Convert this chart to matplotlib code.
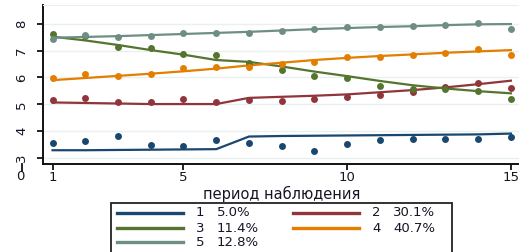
import matplotlib.pyplot as plt
from matplotlib.lines import Line2D
from matplotlib.patches import Rectangle

# наблюдаемые средние и подогнанные траектории по группам
period = list(range(1, 16))
groups = ["1", "2", "3", "4", "5"]
shares = ["5.0%", "30.1%", "11.4%", "40.7%", "12.8%"]
colors = ["#1a476f", "#90353b", "#55752f", "#e37e00", "#6e8e84"]

obs1 = [3.55, 3.63, 3.83, 3.48, 3.45, 3.66, 3.55, 3.46, 3.26, 3.52, 3.67, 3.71, 3.71, 3.71, 3.79]
fit1 = [3.29, 3.29, 3.30, 3.31, 3.32, 3.33, 3.80, 3.82, 3.83, 3.84, 3.85, 3.86, 3.87, 3.88, 3.91]
obs2 = [5.15, 5.25, 5.08, 5.08, 5.18, 5.08, 5.16, 5.13, 5.18, 5.28, 5.36, 5.46, 5.63, 5.79, 5.59]
fit2 = [5.07, 5.05, 5.03, 5.01, 5.01, 5.01, 5.24, 5.28, 5.32, 5.37, 5.45, 5.53, 5.63, 5.75, 5.88]
obs3 = [7.63, 7.55, 7.13, 7.08, 6.89, 6.82, 6.55, 6.29, 6.04, 5.98, 5.68, 5.56, 5.56, 5.48, 5.20]
fit3 = [7.52, 7.38, 7.21, 7.02, 6.85, 6.65, 6.58, 6.41, 6.22, 6.05, 5.87, 5.71, 5.59, 5.49, 5.41]
obs4 = [5.97, 6.12, 6.04, 6.14, 6.34, 6.38, 6.38, 6.52, 6.59, 6.76, 6.76, 6.83, 6.93, 7.05, 6.82]
fit4 = [5.90, 5.98, 6.06, 6.14, 6.23, 6.33, 6.45, 6.55, 6.65, 6.73, 6.80, 6.86, 6.92, 6.97, 7.02]
obs5 = [7.42, 7.57, 7.52, 7.54, 7.64, 7.66, 7.64, 7.74, 7.80, 7.88, 7.89, 7.91, 7.95, 8.03, 7.80]
fit5 = [7.48, 7.51, 7.54, 7.58, 7.62, 7.66, 7.70, 7.75, 7.80, 7.84, 7.88, 7.91, 7.95, 7.98, 7.99]

xticks = [1, 5, 10, 15]
yticks = [3, 4, 5, 6, 7, 8]
xlabel = "период наблюдения"

obs = [obs1, obs2, obs3, obs4, obs5]
fit = [fit1, fit2, fit3, fit4, fit5]

plt.rcParams['font.family'] = ['DejaVu Sans']
txt = '#151525'
grid = '#e8f0f2'

fig = plt.figure(figsize=(5.19, 2.52), dpi=100)
ax = fig.add_axes([0.0823, 0.3492, 0.921, 0.631])

for o, f, c in zip(obs, fit, colors):
    ax.plot(period, o, 'o', color=c, ms=5, mec='none', zorder=3)
    ax.plot(period, f, '-', color=c, lw=1.6, zorder=2)

ax.set_xlim(0.7, 15.3)
ax.set_ylim(2.777, 8.70)
ax.set_xticks(xticks)
ax.set_yticks(yticks, [str(v) for v in yticks], rotation=90, va='center')
ax.grid(axis='y', color=grid, lw=1)
ax.set_axisbelow(True)

for s in ['left', 'bottom']:
    ax.spines[s].set_linewidth(1.4)
    ax.spines[s].set_color('#111111')
ax.spines['top'].set_color(grid)
ax.spines['right'].set_visible(False)

ax.tick_params(axis='both', direction='out', length=4.5, width=1.3, color='#111111',
               labelsize=9.5, labelcolor=txt)
ax.tick_params(axis='x', pad=0.5)
ax.tick_params(axis='y', pad=6)

ax.set_xlabel(xlabel, fontsize=10.5, color=txt, labelpad=1.5)

# "0" под осью Y
fig.text(20.7 / 519, 1 - 177 / 252, "0", ha='center', va='center', fontsize=9.5, color=txt)
fig.add_artist(Line2D([21.5 / 519, 21.5 / 519], [1 - 164 / 252, 1 - 171 / 252],
                      color='#111111', lw=1.3))

# легенда
W, H = 519, 252
fig.add_artist(Rectangle((111 / W, -0.05), (452 - 111) / W, 0.05 + 1 - 203 / H,
                         fill=True, fc='white', ec='#222222', lw=1.3))
rows = [213, 228, 242]
for i, (g, s, c) in enumerate(zip(groups, shares, colors)):
    r, col = divmod(i, 2)
    y = 1 - rows[r] / H
    x0 = [117, 293][col]
    fig.add_artist(Line2D([x0 / W, (x0 + 66) / W], [y, y], color=c, lw=2.4))
    fig.text((x0 + 79) / W, y, g, ha='left', va='center', fontsize=9.5, color=txt)
    fig.text((x0 + 100) / W, y, s, ha='left', va='center', fontsize=9.5, color=txt)

fig.savefig('out.png', dpi=100)
